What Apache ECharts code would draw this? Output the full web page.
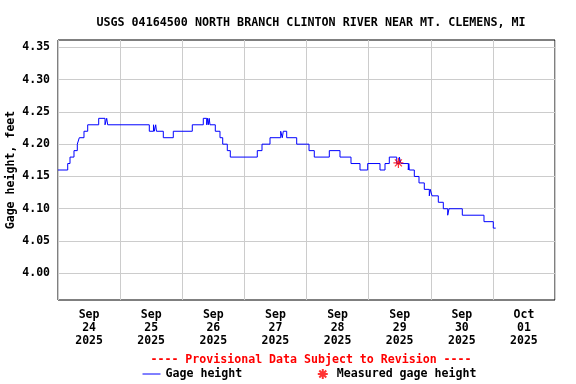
<!DOCTYPE html>
<html><head><meta charset="utf-8">
<script src="https://cdn.jsdelivr.net/npm/echarts@6/dist/echarts.min.js"></script>
<style>html,body{margin:0;padding:0;background:#fff}#c{width:576px;height:384px}</style>
</head><body><div id="c"></div>
<script>
const chartTitle = 'USGS 04164500 NORTH BRANCH CLINTON RIVER NEAR MT. CLEMENS, MI';
const provisionalNote = '---- Provisional Data Subject to Revision ----';
const yAxisName = 'Gage height, feet';
const dayLabels = ['Sep\n24\n2025','Sep\n25\n2025','Sep\n26\n2025','Sep\n27\n2025','Sep\n28\n2025','Sep\n29\n2025','Sep\n30\n2025','Oct\n01\n2025'];
const yTicks = [4.00,4.05,4.10,4.15,4.20,4.25,4.30,4.35];
// hours since 2025-09-24 00:00 at which the gage height changes
const gageHours = [0,3.75,4.64,6.18,7.46,8.23,10.04,11.47,15.72,18.16,18.81,19.20,35.27,36.89,37.20,37.74,38.05,40.68,44.54,51.88,56.13,57.45,57.75,58.06,58.41,58.72,60.77,62.58,63.63,65.40,66.56,76.99,78.81,81.90,86.03,86.65,87.04,88.35,92.21,96.97,99.01,104.81,108.94,113.19,116.67,119.64,124.40,126.33,127.99,130.85,131.85,132.51,135.33,135.52,135.72,137.65,139.46,141.51,143.44,143.83,144.48,146.92,148.85,150.55,151.05,156.19,164.57,168.16,169.09];
const gageValues = [4.16,4.17,4.18,4.19,4.20,4.21,4.22,4.23,4.24,4.23,4.24,4.23,4.22,4.23,4.22,4.23,4.22,4.21,4.22,4.23,4.24,4.23,4.24,4.23,4.24,4.23,4.22,4.21,4.20,4.19,4.18,4.19,4.20,4.21,4.22,4.21,4.22,4.21,4.20,4.19,4.18,4.19,4.18,4.17,4.16,4.17,4.16,4.17,4.18,4.17,4.18,4.17,4.16,4.17,4.16,4.15,4.14,4.13,4.12,4.13,4.12,4.11,4.10,4.09,4.10,4.09,4.08,4.07,4.07];
const measuredHours = [131.5];
const measuredValues = [4.171];

const FONT = 'DejaVu Sans Mono';
const gageData = gageHours.map((h, i) => [h, gageValues[i]]);
const measuredData = measuredHours.map((h, i) => [h, measuredValues[i]]);
const asterisk = 'path://M5,0 L5,10 M0,5 L10,5 M1.5,1.5 L8.5,8.5 M8.5,1.5 L1.5,8.5';

const chart = echarts.init(document.getElementById('c'), null, {renderer: 'canvas'});
chart.setOption({
  animation: false,
  backgroundColor: '#fff',
  title: [
    {text: chartTitle, left: 306, top: 11.5, textAlign: 'center',
     textStyle: {fontFamily: FONT, fontWeight: 'bold', fontSize: 11.7, color: '#000'}},
    {text: provisionalNote, left: 306, top: 349, textAlign: 'center',
     textStyle: {fontFamily: FONT, fontWeight: 'bold', fontSize: 11.6, color: '#ff0000'}}
  ],
  legend: {
    left: 137, top: 361.5, padding: 5, itemWidth: 18, itemHeight: 10, itemGap: 73, itemTextGap: 5,
    textStyle: {fontFamily: FONT, fontWeight: 'bold', fontSize: 11.6, color: '#000'},
    data: [
      {name: 'Gage height', itemStyle: {opacity: 0}, lineStyle: {color: '#0000ff', width: 1, opacity: 1}},
      {name: 'Measured gage height', icon: asterisk}
    ]
  },
  grid: {left: 58, right: 21, top: 40, bottom: 84, show: true, borderColor: '#000', borderWidth: 1,
         containLabel: false, outerBoundsMode: 'none'},
  xAxis: [
    {type: 'value', min: 0, max: 192, interval: 24, position: 'bottom',
     axisLine: {show: false}, axisTick: {show: false}, axisLabel: {show: false},
     splitLine: {show: true, lineStyle: {color: '#cccccc', width: 1}}},
    {type: 'value', min: 0, max: 192, interval: 12, position: 'bottom', offset: 0,
     axisLine: {show: false}, axisTick: {show: false}, splitLine: {show: false},
     axisLabel: {margin: 9, lineHeight: 13, fontFamily: FONT, fontWeight: 'bold', fontSize: 11.5, color: '#000',
       formatter: v => (v % 24 === 12 ? dayLabels[(v - 12) / 24] : '')}}
  ],
  yAxis: {
    type: 'value', min: 3.9587, max: 4.3613,
    name: yAxisName, nameLocation: 'middle', nameGap: 41, nameMoveOverlap: false,
    nameTextStyle: {fontFamily: FONT, fontWeight: 'bold', fontSize: 11.6, color: '#000'},
    axisLine: {show: false},
    axisTick: {show: false, customValues: yTicks},
    axisLabel: {customValues: yTicks, margin: 8, fontFamily: FONT, fontWeight: 'bold', fontSize: 11.5, color: '#000',
      formatter: v => v.toFixed(2)},
    splitLine: {show: true, lineStyle: {color: '#cccccc', width: 1}}
  },
  series: [
    {name: 'Gage height', type: 'line', xAxisIndex: 0, step: 'end', data: gageData,
     symbol: 'none', lineStyle: {color: '#0000ff', width: 1}, itemStyle: {color: '#0000ff'}, z: 3},
    {name: 'Measured gage height', type: 'scatter', xAxisIndex: 0, data: measuredData,
     symbol: asterisk, symbolSize: 10,
     itemStyle: {color: 'none', borderColor: '#ff0000', borderWidth: 1.2}, z: 4}
  ]
});
</script></body></html>
